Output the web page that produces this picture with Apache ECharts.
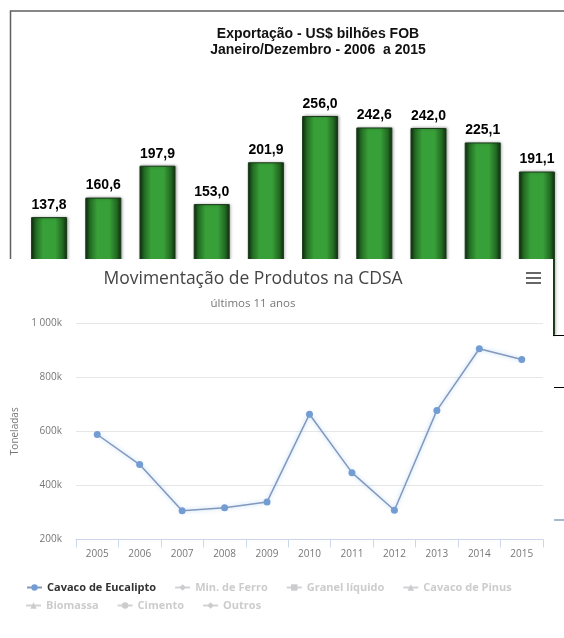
<!DOCTYPE html>
<html>
<head>
<meta charset="utf-8">
<script src="https://cdn.jsdelivr.net/npm/echarts@6/dist/echarts.min.js"></script>
<style>
html,body{margin:0;padding:0;background:#fff;}
#bars{position:absolute;left:0;top:0;width:564px;height:638px;}
#lines{position:absolute;left:0;top:259px;width:553px;height:379px;background:#fff;filter:blur(0.45px);}
</style>
</head>
<body>
<div id="bars"></div>
<div id="lines"></div>
<script>
// ---- Export bar chart data ----
const exportYears = ['2006','2007','2008','2009','2010','2011','2012','2013','2014','2015'];
const exportValues = [137.8, 160.6, 197.9, 153.0, 201.9, 256.0, 242.6, 242.0, 225.1, 191.1];

// ---- CDSA line chart data ----
const cdsaYears = ['2005','2006','2007','2008','2009','2010','2011','2012','2013','2014','2015'];
const cavacoEucalipto = [588000, 477000, 306000, 317000, 339000, 663000, 447000, 308000, 677000, 905000, 865000];
const legendRow1 = ['Cavaco de Eucalipto', 'Min. de Ferro', 'Granel líquido', 'Cavaco de Pinus'];
const legendRow2 = ['Biomassa', 'Cimento', 'Outros'];
const hiddenSeriesNames = ['Min. de Ferro', 'Granel líquido', 'Cavaco de Pinus', 'Biomassa', 'Cimento', 'Outros'];

// ---------- Bar chart ----------
const barChart = echarts.init(document.getElementById('bars'), null, {renderer: 'canvas'});
const barGradient = new echarts.graphic.LinearGradient(0, 0, 1, 0, [
  {offset: 0, color: '#0f2e0f'},
  {offset: 0.13, color: '#236a23'},
  {offset: 0.33, color: '#38a038'},
  {offset: 0.67, color: '#38a038'},
  {offset: 0.87, color: '#236a23'},
  {offset: 1, color: '#0f2e0f'}
]);
barChart.setOption({
  animation: false,
  title: {
    text: 'Exportação - US$ bilhões FOB\nJaneiro/Dezembro - 2006  a 2015',
    left: 313, top: 21, textAlign: 'center',
    textStyle: {fontFamily: 'Liberation Sans, Arial', fontSize: 14, fontWeight: 'bold', color: '#111', lineHeight: 16}
  },
  grid: {left: 22, top: 78.35, width: 543, height: 256.65},
  xAxis: {
    type: 'category', data: exportYears,
    axisLine: {lineStyle: {color: '#000', width: 1}},
    axisTick: {show: false}, axisLabel: {show: false}
  },
  yAxis: {type: 'value', min: 0, max: 300, show: false},
  series: [{
    type: 'bar', data: exportValues, barWidth: 36,
    itemStyle: {color: barGradient, borderColor: '#1a3a1a', borderWidth: 1,
      shadowBlur: 3, shadowColor: 'rgba(0,0,0,0.35)', shadowOffsetX: 1},
    label: {
      show: true, position: 'top', distance: 5,
      formatter: p => p.value.toFixed(1).replace('.', ','),
      fontFamily: 'Liberation Sans, Arial', fontSize: 14, fontWeight: 'bold', color: '#000'
    }
  }],
  graphic: [
    {type: 'rect', shape: {x: 10.5, y: 11, width: 700, height: 700}, style: {fill: 'none', stroke: '#606060', lineWidth: 1.5}},
    {type: 'line', shape: {x1: 554, y1: 387.5, x2: 564, y2: 387.5}, style: {stroke: '#000', lineWidth: 1}},
    {type: 'line', shape: {x1: 554, y1: 520, x2: 564, y2: 520}, style: {stroke: '#a9b9cc', lineWidth: 2}}
  ]
});

// ---------- Line chart ----------
const lineChart = echarts.init(document.getElementById('lines'), null, {renderer: 'canvas'});
const hiddenColors = ['#434348', '#90ed7d', '#f7a35c', '#8085e9', '#f15c80', '#e4d354'];
const hiddenSymbols = ['diamond', 'rect', 'triangle', 'triangle', 'circle', 'diamond'];
const selected1 = {}; legendRow1.forEach((n, i) => selected1[n] = i === 0);
const selected2 = {}; legendRow2.forEach(n => selected2[n] = false);
const font = 'Open Sans, Noto Sans, sans-serif';
const legendBase = {
  orient: 'horizontal', itemGap: 18, itemWidth: 15, itemHeight: 8,
  inactiveColor: '#cccccc', inactiveBorderColor: '#cccccc',
  textStyle: {fontFamily: font, fontSize: 11, fontWeight: 'bold', color: '#333'}
};
lineChart.setOption({
  animation: false,
  title: {
    text: 'Movimentação de Produtos na CDSA', subtext: 'últimos 11 anos',
    left: 248, top: 6, textAlign: 'center', itemGap: 10,
    textStyle: {fontFamily: font, fontSize: 17.5, fontWeight: 'normal', color: '#444'},
    subtextStyle: {fontFamily: font, fontSize: 11.5, color: '#777'}
  },
  grid: {left: 76, top: 64, width: 467, height: 216.5},
  xAxis: {
    type: 'category', data: cdsaYears, boundaryGap: true,
    axisLine: {lineStyle: {color: '#ccd6eb'}},
    axisTick: {show: true, length: 8, lineStyle: {color: '#ccd6eb'}},
    axisLabel: {fontFamily: font, fontSize: 10, color: '#777', margin: 10}
  },
  yAxis: {
    type: 'value', min: 200000, max: 1000000, interval: 200000,
    name: 'Toneladas', nameLocation: 'middle', nameGap: 56, nameRotate: 90,
    nameTextStyle: {fontFamily: font, fontSize: 10, color: '#777'},
    axisLine: {show: false}, axisTick: {show: false},
    splitLine: {lineStyle: {color: '#e6e6e6'}},
    axisLabel: {
      fontFamily: font, fontSize: 10, color: '#777', margin: 14,
      formatter: v => v === 1000000 ? '1 000k' : (v / 1000) + 'k'
    }
  },
  legend: [
    Object.assign({}, legendBase, {data: legendRow1, selected: selected1, left: 21, top: 318}),
    Object.assign({}, legendBase, {data: legendRow2, selected: selected2, left: 20, top: 336})
  ],
  series: [
    {
      name: 'Cavaco de Eucalipto', type: 'line', data: cavacoEucalipto,
      symbol: 'circle', symbolSize: 7, showAllSymbol: true,
      itemStyle: {color: '#739dd2'},
      lineStyle: {color: '#8398bd', width: 1.5, shadowBlur: 4, shadowColor: 'rgba(124,181,236,0.6)'}
    }
  ].concat(hiddenSeriesNames.map((n, i) => ({
    name: n, type: 'line', data: [], symbol: hiddenSymbols[i], symbolSize: 7,
    itemStyle: {color: hiddenColors[i]}, lineStyle: {color: hiddenColors[i]}
  }))),
  graphic: [
    {type: 'rect', shape: {x: 526, y: 13, width: 15, height: 2}, style: {fill: '#666'}},
    {type: 'rect', shape: {x: 526, y: 18, width: 15, height: 2}, style: {fill: '#666'}},
    {type: 'rect', shape: {x: 526, y: 23, width: 15, height: 2}, style: {fill: '#666'}}
  ]
});
</script>
</body>
</html>
